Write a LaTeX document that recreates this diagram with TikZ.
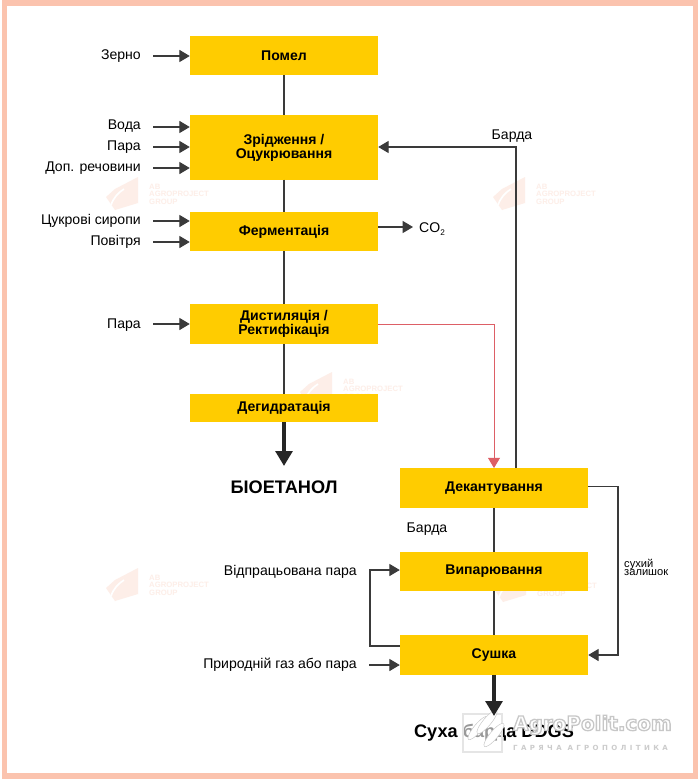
\documentclass[tikz,border=0pt]{standalone}
\usepackage{fontspec}
\setmainfont{Liberation Sans}
\newfontfamily\sitefont{DejaVu Sans}
\usepackage{xcolor}
\usetikzlibrary{arrows.meta,calc}
\definecolor{stepyellow}{HTML}{FFCC00}
\definecolor{framepeach}{HTML}{FBC3AE}
\definecolor{linegrey}{HTML}{3A3A3A}
\definecolor{redline}{HTML}{DD5F66}
\definecolor{markpeach}{HTML}{FDEEE8}
\tikzset{
  stepbox/.style={fill=stepyellow, align=center, inner sep=0pt, minimum width=56.4mm, font=\fontsize{12}{12}\selectfont\bfseries},
  inlbl/.style={anchor=east, inner ysep=0pt, inner xsep=3.6mm, font=\fontsize{12}{14}\selectfont},
  txtlbl/.style={inner sep=0pt, font=\fontsize{12}{14}\selectfont},
  outlbl/.style={inner sep=0pt, font=\fontsize{15.5}{18}\selectfont\bfseries},
  link/.style={draw=linegrey, line width=0.9pt},
  arrow/.style={-{Triangle[length=3.1mm,width=3.6mm]}, draw=linegrey, line width=0.9pt},
  redarrow/.style={-{Triangle[length=3.1mm,width=3.6mm]}, draw=redline, line width=0.8pt},
  thickarrow/.style={-{Triangle[length=4.5mm,width=5mm]}, draw=black!85, line width=1.2mm},
  wmark/.style={inner sep=0pt, anchor=west, align=left, text=markpeach, font=\fontsize{6.6}{6.4}\selectfont\bfseries}
}
\begin{document}
\begin{tikzpicture}[x=0.3mm,y=-0.3mm]
\useasboundingbox (0,0) rectangle (698,779);
% frame
\fill[white] (0,0) rectangle (698,779);
\draw[framepeach, line width=1.6mm] (4.5,3) rectangle (695.5,776);
% faint marks
\foreach \mx/\my in {106/568, 300/372, 493/177, 106/177, 494/569} {
  \fill[markpeach] (\mx+9,\my+12) -- (\mx+32,\my) -- (\mx+32,\my+26) -- (\mx+9,\my+33) -- (\mx,\my+20) -- cycle;
  \draw[white, line width=0.5mm] (\mx+5,\my+28) .. controls (\mx+8,\my+20) and (\mx+12,\my+16) .. (\mx+18,\my+12);
}
\node[wmark] (markA) at (149,585) {AB\\AGROPROJECT\\GROUP};
\node[wmark] (markB) at (343,389) {AB\\AGROPROJECT\\GROUP};
\node[wmark] (markC) at (536,194) {AB\\AGROPROJECT\\GROUP};
\node[wmark] (markD) at (149,194) {AB\\AGROPROJECT\\GROUP};
\node[wmark] (markE) at (537,586) {AB\\AGROPROJECT\\GROUP};
% left column
\node[stepbox, minimum height=11.7mm] (pomel) at (284,55.5) {Помел};
\node[stepbox, minimum height=19.2mm] (zridzh) at (284,147.5) {Зрідження /\\Оцукрювання};
\node[stepbox, minimum height=11.7mm] (ferm) at (284,231.5) {Ферментація};
\node[stepbox, minimum height=12mm] (dist) at (284,324) {Дистиляція /\\Ректифікація};
\node[stepbox, minimum height=8.4mm] (degid) at (284,408) {Дегидратація};
\node[outlbl] (bioet) at (284,487) {БІОЕТАНОЛ};
% right column
\node[stepbox, minimum height=11.8mm] (dekant) at (494,488) {Декантування};
\node[stepbox, minimum height=11.7mm] (vypar) at (494,571.5) {Випарювання};
\node[stepbox, minimum height=11.8mm] (sushka) at (494,655) {Сушка};
\node[outlbl] (ddgs) at (494,733) {Суха барда DDGS};
% inputs
\node[inlbl] (zerno) at (153,56.5) {Зерно};
\node[inlbl] (voda) at (153,126.5) {Вода};
\node[inlbl] (para) at (153,147.5) {Пара};
\node[inlbl] (dop) at (153,168) {Доп. речовини};
\node[inlbl] (syrop) at (153,221) {Цукрові сиропи};
\node[inlbl] (povit) at (153,242) {Повітря};
\node[inlbl] (paraD) at (153,325) {Пара};
\node[inlbl] (vidpr) at (369,572) {Відпрацьована пара};
\node[inlbl] (gaz) at (369,665) {Природній газ або пара};
% other labels
\node[txtlbl, anchor=west, inner xsep=1.8mm] (co) at (413,229) {CO\raisebox{-0.45ex}{\fontsize{7}{7}\selectfont 2}};
\node[txtlbl] (bardaA) at (512,136) {Барда};
\node[txtlbl] (bardaB) at (427,529) {Барда};
\node[inner sep=0pt, anchor=west, align=left, font=\fontsize{9.5}{7.5}\selectfont] (zalish) at (624,567.5) {сухий\\залишок};
% main lines
\draw[link] (pomel) -- (zridzh);
\draw[link] (zridzh) -- (ferm);
\draw[link] (ferm) -- (dist);
\draw[link] (dist) -- (degid);
\draw[link] (dekant) -- (vypar);
\draw[link] (vypar) -- (sushka);
% input arrows
\foreach \lbl/\stp/\ya in {zerno/pomel/56, voda/zridzh/127, para/zridzh/147, dop/zridzh/168, syrop/ferm/221, povit/ferm/242, paraD/dist/324} {
  \draw[arrow] (\lbl.east |- 0,\ya) -- (\stp.west |- 0,\ya);
}
\draw[arrow] (gaz.east) -- (sushka.west |- gaz.east);
% side flows
\draw[arrow] (ferm.east |- 0,227) -- (co.west |- 0,227);
\draw[arrow] (dekant.north -| 516,0) -- (516,147) -- (zridzh.east |- 0,147);
\draw[redarrow] (dist.east) -| (dekant.north);
\draw[arrow] (dekant.east |- 0,486.5) -- (618,486.5) -- (618,655) -- (sushka.east);
\draw[arrow] (sushka.west |- 0,646) -- (370,646) -- (370,570) -- (vypar.west |- 0,570);
% site mark
\draw[black!10, fill=white, fill opacity=0.6, line width=0.5mm] (463,714) rectangle (502,752);
\foreach \ex/\ey in {478/728, 494/735, 487/722} {
  \draw[black!22, fill=white, rotate around={50:(\ex,\ey)}] (\ex,\ey) ellipse (15 and 4);
}
\draw[thickarrow] (degid.south) -- (284,466);
\draw[thickarrow] (sushka.south) -- (494,716);
\node[inner sep=0pt, anchor=west, text=white, font=\sitefont\fontsize{17}{19}\selectfont\bfseries] (polit) at (513,725) {\special{pdf:code 2 Tr 1.1 w 0.78 G}AgroPolit.com\special{pdf:code 0 Tr 1 w}};
\node[inner sep=0pt, anchor=west, text=black!20, font=\sitefont\fontsize{6}{7}\selectfont\bfseries\addfontfeatures{LetterSpace=48}] (polit2) at (513,748) {ГАРЯЧА АГРОПОЛІТИКА};
\end{tikzpicture}
\end{document}
